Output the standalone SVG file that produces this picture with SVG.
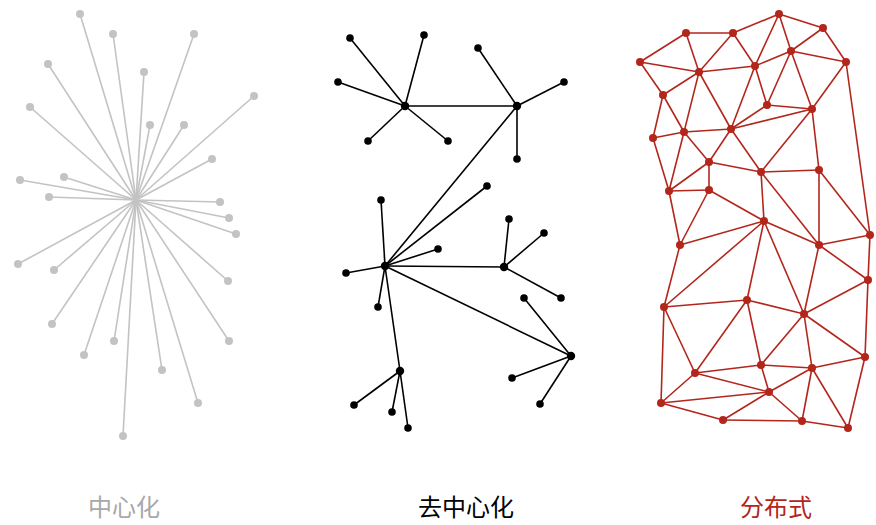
<svg xmlns="http://www.w3.org/2000/svg" width="876" height="525" viewBox="0 0 876 525">
<style>
.g line{stroke:#c3c3c3;stroke-width:1.6}
.g circle{fill:#c3c3c3}
.k line{stroke:#000;stroke-width:1.6}
.k circle{fill:#000}
.r line{stroke:#b3261c;stroke-width:1.6}
.r circle{fill:#b3261c}
text{font-family:"Noto Sans CJK SC","Noto Sans CJK JP",sans-serif;font-size:24px;text-anchor:middle}
</style>
<rect width="876" height="525" fill="#fff"/>
<!-- Centralized -->
<g class="g" id="centralized">
<g id="c-edges">
<line x1="136" y1="200" x2="80" y2="14"/><line x1="136" y1="200" x2="113" y2="34"/><line x1="136" y1="200" x2="194" y2="34"/><line x1="136" y1="200" x2="48" y2="64"/><line x1="136" y1="200" x2="144" y2="72"/><line x1="136" y1="200" x2="254" y2="96"/><line x1="136" y1="200" x2="30" y2="107"/><line x1="136" y1="200" x2="150" y2="125"/><line x1="136" y1="200" x2="184" y2="125"/><line x1="136" y1="200" x2="212" y2="159"/><line x1="136" y1="200" x2="20" y2="180"/><line x1="136" y1="200" x2="64" y2="177"/><line x1="136" y1="200" x2="49" y2="197"/><line x1="136" y1="200" x2="220" y2="202"/><line x1="136" y1="200" x2="229" y2="218"/><line x1="136" y1="200" x2="236" y2="234"/><line x1="136" y1="200" x2="18" y2="264"/><line x1="136" y1="200" x2="54" y2="270"/><line x1="136" y1="200" x2="228" y2="281"/><line x1="136" y1="200" x2="52" y2="324"/><line x1="136" y1="200" x2="114" y2="341"/><line x1="136" y1="200" x2="84" y2="355"/><line x1="136" y1="200" x2="229" y2="341"/><line x1="136" y1="200" x2="162" y2="370"/><line x1="136" y1="200" x2="198" y2="403"/><line x1="136" y1="200" x2="123" y2="436"/>
</g>
<g id="c-nodes">
<circle cx="80" cy="14" r="4"/><circle cx="113" cy="34" r="4"/><circle cx="194" cy="34" r="4"/><circle cx="48" cy="64" r="4"/><circle cx="144" cy="72" r="4"/><circle cx="254" cy="96" r="4"/><circle cx="30" cy="107" r="4"/><circle cx="150" cy="125" r="4"/><circle cx="184" cy="125" r="4"/><circle cx="212" cy="159" r="4"/><circle cx="20" cy="180" r="4"/><circle cx="64" cy="177" r="4"/><circle cx="49" cy="197" r="4"/><circle cx="220" cy="202" r="4"/><circle cx="229" cy="218" r="4"/><circle cx="236" cy="234" r="4"/><circle cx="18" cy="264" r="4"/><circle cx="54" cy="270" r="4"/><circle cx="228" cy="281" r="4"/><circle cx="52" cy="324" r="4"/><circle cx="114" cy="341" r="4"/><circle cx="84" cy="355" r="4"/><circle cx="229" cy="341" r="4"/><circle cx="162" cy="370" r="4"/><circle cx="198" cy="403" r="4"/><circle cx="123" cy="436" r="4"/>
</g>
</g>
<!-- Decentralized -->
<g class="k" id="decentralized">
<g id="d-edges">
<line x1="405" y1="106" x2="517" y2="106"/>
<line x1="405" y1="106" x2="350" y2="38"/><line x1="405" y1="106" x2="424" y2="35"/><line x1="405" y1="106" x2="338" y2="82"/><line x1="405" y1="106" x2="368" y2="141"/><line x1="405" y1="106" x2="448" y2="141"/>
<line x1="517" y1="106" x2="478" y2="48"/><line x1="517" y1="106" x2="564" y2="82"/><line x1="517" y1="106" x2="517" y2="159"/>
<line x1="517" y1="106" x2="385" y2="266"/>
<line x1="385" y1="266" x2="487" y2="186"/><line x1="385" y1="266" x2="381" y2="200"/><line x1="385" y1="266" x2="438" y2="249"/><line x1="385" y1="266" x2="346" y2="273"/><line x1="385" y1="266" x2="378" y2="307"/>
<line x1="385" y1="266" x2="504" y2="267"/><line x1="385" y1="266" x2="571" y2="356"/><line x1="385" y1="266" x2="400" y2="371"/>
<line x1="504" y1="267" x2="509" y2="219"/><line x1="504" y1="267" x2="544" y2="233"/><line x1="504" y1="267" x2="561" y2="298"/>
<line x1="571" y1="356" x2="524" y2="298"/><line x1="571" y1="356" x2="512" y2="378"/><line x1="571" y1="356" x2="540" y2="404"/>
<line x1="400" y1="371" x2="354" y2="405"/><line x1="400" y1="371" x2="392" y2="412"/><line x1="400" y1="371" x2="408" y2="428"/>
</g>
<g id="d-nodes">
<circle cx="405" cy="106" r="4.2"/><circle cx="517" cy="106" r="4.2"/><circle cx="385" cy="266" r="4.2"/><circle cx="504" cy="267" r="4.2"/><circle cx="571" cy="356" r="4.2"/><circle cx="400" cy="371" r="4.2"/>
<circle cx="350" cy="38" r="3.8"/><circle cx="424" cy="35" r="3.8"/><circle cx="338" cy="82" r="3.8"/><circle cx="368" cy="141" r="3.8"/><circle cx="448" cy="141" r="3.8"/>
<circle cx="478" cy="48" r="3.8"/><circle cx="564" cy="82" r="3.8"/><circle cx="517" cy="159" r="3.8"/>
<circle cx="487" cy="186" r="3.8"/><circle cx="381" cy="200" r="3.8"/><circle cx="438" cy="249" r="3.8"/><circle cx="346" cy="273" r="3.8"/><circle cx="378" cy="307" r="3.8"/>
<circle cx="509" cy="219" r="3.8"/><circle cx="544" cy="233" r="3.8"/><circle cx="561" cy="298" r="3.8"/>
<circle cx="524" cy="298" r="3.8"/><circle cx="512" cy="378" r="3.8"/><circle cx="540" cy="404" r="3.8"/>
<circle cx="354" cy="405" r="3.8"/><circle cx="392" cy="412" r="3.8"/><circle cx="408" cy="428" r="3.8"/>
</g>
</g>
<!-- Distributed -->
<g class="r" id="distributed">
<g id="r-edges">
<line x1="640" y1="62" x2="686" y2="33"/><line x1="640" y1="62" x2="699" y2="72"/><line x1="640" y1="62" x2="663" y2="95"/>
<line x1="686" y1="33" x2="733" y2="33"/><line x1="686" y1="33" x2="699" y2="72"/>
<line x1="733" y1="33" x2="699" y2="72"/><line x1="733" y1="33" x2="755" y2="66"/><line x1="733" y1="33" x2="779" y2="14"/>
<line x1="779" y1="14" x2="755" y2="66"/><line x1="779" y1="14" x2="791" y2="51"/><line x1="779" y1="14" x2="823" y2="28"/>
<line x1="823" y1="28" x2="791" y2="51"/><line x1="823" y1="28" x2="846" y2="62"/>
<line x1="791" y1="51" x2="755" y2="66"/><line x1="791" y1="51" x2="846" y2="62"/><line x1="791" y1="51" x2="767" y2="105"/><line x1="791" y1="51" x2="812" y2="109"/>
<line x1="846" y1="62" x2="812" y2="109"/><line x1="846" y1="62" x2="870" y2="235"/>
<line x1="699" y1="72" x2="755" y2="66"/><line x1="699" y1="72" x2="663" y2="95"/><line x1="699" y1="72" x2="684" y2="132"/><line x1="699" y1="72" x2="731" y2="129"/>
<line x1="755" y1="66" x2="767" y2="105"/><line x1="755" y1="66" x2="731" y2="129"/>
<line x1="663" y1="95" x2="684" y2="132"/><line x1="663" y1="95" x2="653" y2="138"/>
<line x1="767" y1="105" x2="731" y2="129"/><line x1="767" y1="105" x2="812" y2="109"/>
<line x1="812" y1="109" x2="731" y2="129"/><line x1="812" y1="109" x2="819" y2="170"/><line x1="812" y1="109" x2="761" y2="172"/>
<line x1="684" y1="132" x2="731" y2="129"/><line x1="684" y1="132" x2="653" y2="138"/><line x1="684" y1="132" x2="709" y2="162"/><line x1="684" y1="132" x2="669" y2="191"/>
<line x1="731" y1="129" x2="709" y2="162"/><line x1="731" y1="129" x2="761" y2="172"/>
<line x1="653" y1="138" x2="669" y2="191"/>
<line x1="709" y1="162" x2="761" y2="172"/><line x1="709" y1="162" x2="669" y2="191"/><line x1="709" y1="162" x2="709" y2="190"/>
<line x1="761" y1="172" x2="819" y2="170"/><line x1="761" y1="172" x2="764" y2="221"/><line x1="761" y1="172" x2="819" y2="245"/>
<line x1="819" y1="170" x2="819" y2="245"/><line x1="819" y1="170" x2="870" y2="235"/>
<line x1="669" y1="191" x2="709" y2="190"/><line x1="669" y1="191" x2="680" y2="245"/>
<line x1="709" y1="190" x2="680" y2="245"/><line x1="709" y1="190" x2="764" y2="221"/>
<line x1="764" y1="221" x2="680" y2="245"/><line x1="764" y1="221" x2="664" y2="307"/><line x1="764" y1="221" x2="747" y2="300"/><line x1="764" y1="221" x2="804" y2="314"/><line x1="764" y1="221" x2="819" y2="245"/>
<line x1="680" y1="245" x2="664" y2="307"/>
<line x1="819" y1="245" x2="870" y2="235"/><line x1="819" y1="245" x2="868" y2="280"/><line x1="819" y1="245" x2="804" y2="314"/>
<line x1="870" y1="235" x2="868" y2="280"/>
<line x1="868" y1="280" x2="804" y2="314"/><line x1="868" y1="280" x2="865" y2="357"/>
<line x1="664" y1="307" x2="747" y2="300"/><line x1="664" y1="307" x2="695" y2="373"/><line x1="664" y1="307" x2="661" y2="403"/>
<line x1="747" y1="300" x2="804" y2="314"/><line x1="747" y1="300" x2="695" y2="373"/><line x1="747" y1="300" x2="761" y2="365"/>
<line x1="804" y1="314" x2="865" y2="357"/><line x1="804" y1="314" x2="761" y2="365"/><line x1="804" y1="314" x2="812" y2="368"/>
<line x1="865" y1="357" x2="812" y2="368"/><line x1="865" y1="357" x2="848" y2="428"/>
<line x1="695" y1="373" x2="761" y2="365"/><line x1="695" y1="373" x2="769" y2="392"/><line x1="695" y1="373" x2="661" y2="403"/>
<line x1="761" y1="365" x2="812" y2="368"/><line x1="761" y1="365" x2="769" y2="392"/>
<line x1="812" y1="368" x2="769" y2="392"/><line x1="812" y1="368" x2="802" y2="421"/><line x1="812" y1="368" x2="848" y2="428"/>
<line x1="769" y1="392" x2="661" y2="403"/><line x1="769" y1="392" x2="723" y2="420"/><line x1="769" y1="392" x2="802" y2="421"/>
<line x1="661" y1="403" x2="723" y2="420"/>
<line x1="723" y1="420" x2="802" y2="421"/>
<line x1="802" y1="421" x2="848" y2="428"/>
</g>
<g id="r-nodes">
<circle cx="640" cy="62" r="4"/><circle cx="686" cy="33" r="4"/><circle cx="733" cy="33" r="4"/><circle cx="779" cy="14" r="4"/><circle cx="823" cy="28" r="4"/><circle cx="791" cy="51" r="4"/><circle cx="846" cy="62" r="4"/><circle cx="699" cy="72" r="4"/><circle cx="755" cy="66" r="4"/><circle cx="663" cy="95" r="4"/><circle cx="767" cy="105" r="4"/><circle cx="812" cy="109" r="4"/><circle cx="684" cy="132" r="4"/><circle cx="731" cy="129" r="4"/><circle cx="653" cy="138" r="4"/><circle cx="709" cy="162" r="4"/><circle cx="761" cy="172" r="4"/><circle cx="819" cy="170" r="4"/><circle cx="669" cy="191" r="4"/><circle cx="709" cy="190" r="4"/><circle cx="764" cy="221" r="4"/><circle cx="680" cy="245" r="4"/><circle cx="819" cy="245" r="4"/><circle cx="870" cy="235" r="4"/><circle cx="868" cy="280" r="4"/><circle cx="664" cy="307" r="4"/><circle cx="747" cy="300" r="4"/><circle cx="804" cy="314" r="4"/><circle cx="865" cy="357" r="4"/><circle cx="695" cy="373" r="4"/><circle cx="761" cy="365" r="4"/><circle cx="812" cy="368" r="4"/><circle cx="769" cy="392" r="4"/><circle cx="661" cy="403" r="4"/><circle cx="723" cy="420" r="4"/><circle cx="802" cy="421" r="4"/><circle cx="848" cy="428" r="4"/>
</g>
</g>
<g id="labels">
<text x="124" y="516" fill="#a8a8a8">中心化</text>
<text x="466" y="516" fill="#000">去中心化</text>
<text x="776" y="516" fill="#b3261c">分布式</text>
</g>
</svg>
